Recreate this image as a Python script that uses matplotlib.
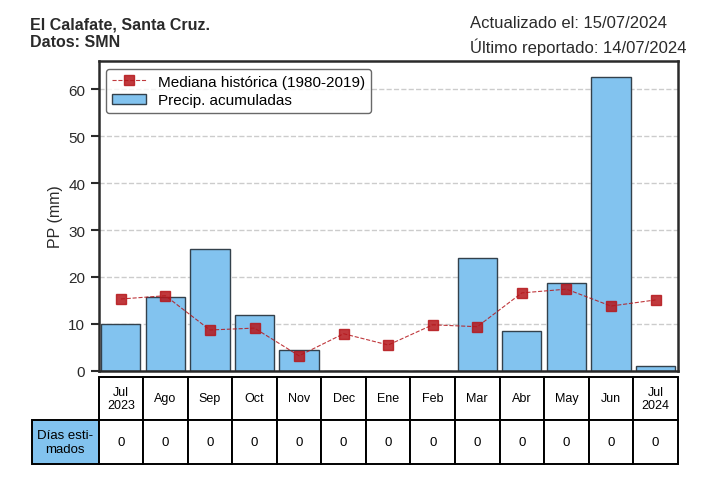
import matplotlib
matplotlib.use('Agg')
import matplotlib.pyplot as plt
from matplotlib.table import Table

plt.rcParams['font.family'] = ['Liberation Sans', 'DejaVu Sans']

# datos
meses = ['Jul\n2023', 'Ago', 'Sep', 'Oct', 'Nov', 'Dec', 'Ene', 'Feb',
         'Mar', 'Abr', 'May', 'Jun', 'Jul\n2024']
precip = [10.0, 15.7, 26.0, 11.9, 4.5, 0.0, 0.0, 0.0, 24.0, 8.5, 18.7, 62.5, 1.0]
mediana = [15.3, 16.0, 8.7, 9.1, 3.2, 7.9, 5.5, 9.8, 9.4, 16.6, 17.4, 13.8, 15.1]
dias_estimados = [0, 0, 0, 0, 0, 0, 0, 0, 0, 0, 0, 0, 0]

azul = '#82c3ef'
rojo = '#b5161b'

fig = plt.figure(figsize=(7.09, 4.81), dpi=100)
ax = fig.add_axes([0.139, 0.227, 0.817, 0.644])

x = list(range(len(meses)))
ax.bar(x, precip, width=0.88, color=azul, edgecolor='#33414c', linewidth=1.0,
       label='Precip. acumuladas', zorder=2)
ax.plot(x, mediana, linestyle='--', color=rojo, linewidth=0.8, alpha=0.85,
        marker='s', markersize=7, markerfacecolor=rojo, markeredgecolor=rojo,
        label='Mediana histórica (1980-2019)', zorder=3)

ax.set_xlim(-0.5, 12.5)
ax.set_ylim(0, 66)
ax.set_yticks([0, 10, 20, 30, 40, 50, 60])
ax.set_xticks([])
ax.yaxis.grid(True, linestyle='--', color='#cccccc', linewidth=1.0, zorder=0)
ax.set_axisbelow(True)
for s in ax.spines.values():
    s.set_linewidth(1.8)
    s.set_color('#2a2a2a')
ax.tick_params(axis='y', length=6, width=1.5, labelsize=11, colors='#2a2a2a')
ax.set_ylabel('PP (mm)', fontsize=11.5, color='#2a2a2a')

leg = ax.legend(loc='upper left', fontsize=11, frameon=True, fancybox=True,
                edgecolor='#444444', borderaxespad=0.5, handlelength=2.2,
                labelspacing=0.3)
leg.get_frame().set_linewidth(1.0)

# tabla de meses y dias estimados
tab = Table(ax, bbox=[-0.1157, -0.3, 1.1157, 0.281])
ancho = 1.0
ancho_lbl = 67 / (579 / 13)
for j, m in enumerate(meses):
    c = tab.add_cell(0, j + 1, width=ancho, height=1, text=m, loc='center')
    c.set_linewidth(1.4)
    c.get_text().set_fontsize(9)
c = tab.add_cell(1, 0, width=ancho_lbl, height=1, text='Días esti-\nmados',
                 loc='center', facecolor=azul)
c.set_linewidth(1.4)
c.get_text().set_fontsize(9.5)
for j, d in enumerate(dias_estimados):
    c = tab.add_cell(1, j + 1, width=ancho, height=1, text=str(d), loc='center')
    c.set_linewidth(1.4)
    c.get_text().set_fontsize(9.5)
tab.auto_set_font_size(False)
ax.add_table(tab)

fig.text(30 / 709, 1 - 18 / 481, 'El Calafate, Santa Cruz.\nDatos: SMN',
         fontsize=11.5, fontweight='bold', va='top', ha='left', color='#2a2a2a',
         linespacing=1.2)
fig.text(470 / 709, 1 - 23 / 481, 'Actualizado el: 15/07/2024',
         fontsize=12, va='center', ha='left', color='#2a2a2a')
fig.text(470 / 709, 1 - 47 / 481, 'Último reportado: 14/07/2024',
         fontsize=12, va='center', ha='left', color='#2a2a2a')

fig.savefig('out.png', dpi=100)
